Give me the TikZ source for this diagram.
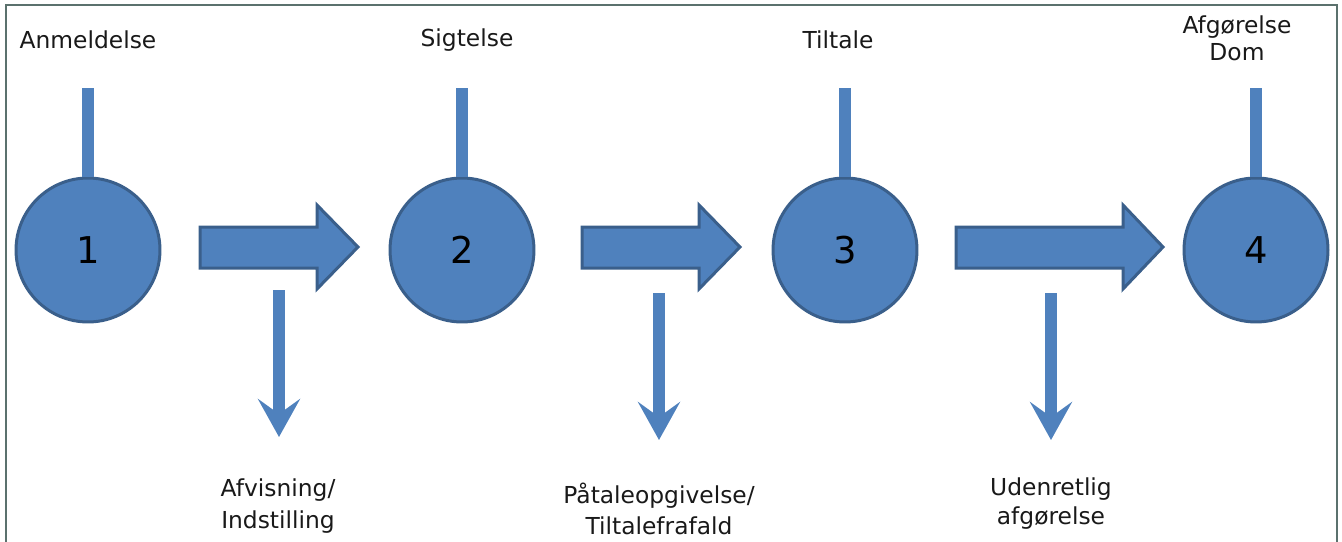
\documentclass[tikz,border=0pt]{standalone}
\usepackage{fontspec}
\setmainfont{DejaVu Sans}
\usetikzlibrary{arrows.meta}
\definecolor{boxblue}{HTML}{4F81BD}
\definecolor{boxedge}{HTML}{3A5F8B}
\definecolor{framegray}{HTML}{5B716D}
\begin{document}
\begin{tikzpicture}[x=0.02cm,y=-0.02cm,
    stage/.style={circle,fill=boxblue,draw=boxedge,line width=0.06cm,minimum size=2.88cm,inner sep=0pt,font=\fontsize{21}{21}\selectfont},
    steptext/.style={align=center,text=black!90,font=\fontsize{13.3}{16}\selectfont},
    stem/.style={boxblue,line width=0.24cm},
    drop/.style={boxblue,line width=0.24cm,-{Stealth[length=0.76cm,width=0.84cm,inset=0.3cm]}},
    blockarrow/.style={fill=boxblue,draw=boxedge,line width=0.06cm,line join=miter}]
    \useasboundingbox (0,0) rectangle (1342,541);
    \draw[framegray,line width=0.04cm] (6,560) -- (6,5) -- (1337,5) -- (1337,560);
    % stages
    \node[stage] (c1) at (88,250) {1};
    \node[stage] (c2) at (462,250) {2};
    \node[stage] (c3) at (845,250) {3};
    \node[stage] (c4) at (1256,250) {4};
    \node[steptext] (t1) at (88,40) {Anmeldelse};
    \node[steptext] (t2) at (467,40) {Sigtelse};
    \node[steptext] (t3) at (838,40) {Tiltale};
    \node[steptext,font=\fontsize{13.3}{15.4}\selectfont] (t4) at (1237,38) {Afgørelse\\Dom};
    \foreach \n/\x in {1/88,2/462,3/845,4/1256} {
        \coordinate (s\n) at (\x,88);
        \draw[stem] (s\n) -- (c\n.north);
    }
    % block arrows between stages
    \foreach \a/\b/\c in {200/317/358, 582/699/740, 956/1123/1163}
        \draw[blockarrow] (\a,227) -- (\b,227) -- (\b,205) -- (\c,247) -- (\b,289) -- (\b,268) -- (\a,268) -- cycle;
    % exits
    \node[steptext,font=\fontsize{13.3}{18}\selectfont] (o1) at (278,506) {Afvisning/\\Indstilling};
    \node[steptext,font=\fontsize{13.3}{18}\selectfont] (o2) at (659,509) {Påtaleopgivelse/\\Tiltalefrafald};
    \node[steptext,font=\fontsize{13.3}{16.5}\selectfont] (o3) at (1051,504) {Udenretlig\\afgørelse};
    \foreach \n/\x/\y in {1/279/290,2/659/293,3/1051/293} {
        \coordinate (d\n) at (\x,\y);
        \coordinate (e\n) at (\x,\y+147);
        \draw[drop] (d\n) -- (e\n);
    }
\end{tikzpicture}
\end{document}
